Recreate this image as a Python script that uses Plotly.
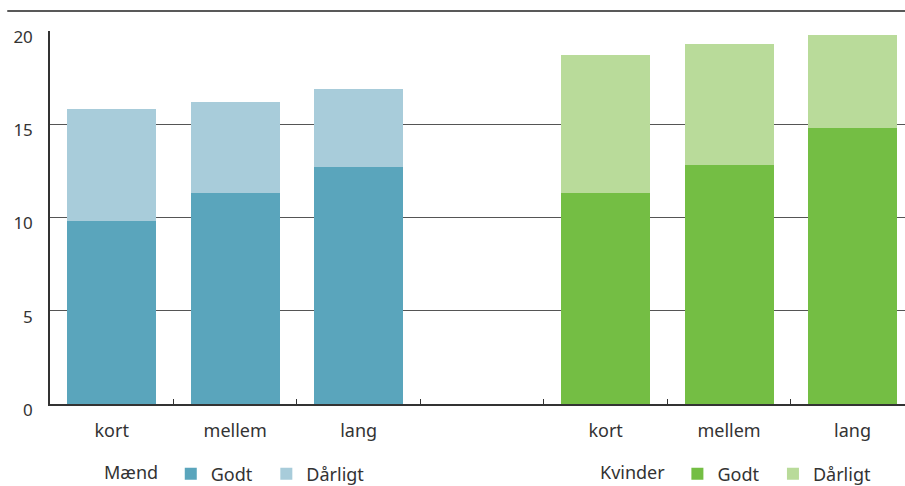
import plotly.graph_objects as go

categories = ["m_kort", "m_mellem", "m_lang", "gap", "k_kort", "k_mellem", "k_lang"]
tick_labels = ["kort", "mellem", "lang", "", "kort", "mellem", "lang"]

maend_x = ["m_kort", "m_mellem", "m_lang"]
maend_godt = [9.8, 11.3, 12.7]
maend_daarligt = [6.0, 4.9, 4.2]

kvinder_x = ["k_kort", "k_mellem", "k_lang"]
kvinder_godt = [11.3, 12.8, 14.8]
kvinder_daarligt = [7.4, 6.5, 5.0]

FONT = "Noto Sans"
TXT = "#333333"

data = [
    go.Bar(x=maend_x, y=maend_godt, name="Godt\u2002", marker=dict(color="#5AA5BC", line_width=0), legend="legend"),
    go.Bar(x=maend_x, y=maend_daarligt, name="Dårligt", marker=dict(color="#A8CCDA", line_width=0), legend="legend"),
    go.Bar(x=kvinder_x, y=kvinder_godt, name="Godt\u2002", marker=dict(color="#74BE44", line_width=0), legend="legend2"),
    go.Bar(x=kvinder_x, y=kvinder_daarligt, name="Dårligt", marker=dict(color="#B9DB9A", line_width=0), legend="legend2"),
]

legend_style = dict(
    orientation="h", xref="container", yref="container", yanchor="middle",
    font=dict(family=FONT, size=18, color=TXT), bgcolor="rgba(0,0,0,0)",
    traceorder="normal", itemclick=False,
)

layout = go.Layout(
    barmode="stack",
    bargap=0.28,
    width=905,
    height=486,
    margin=dict(l=50, r=0, t=31, b=82),
    plot_bgcolor="white",
    paper_bgcolor="white",
    font=dict(family=FONT, color=TXT),
    xaxis=dict(
        type="category", categoryorder="array", categoryarray=categories,
        tickvals=categories, ticktext=tick_labels, range=[-0.5, 6.425],
        tickson="boundaries", ticks="inside", ticklen=5, tickcolor="#333",
        showline=True, linecolor="#333", linewidth=1.5, showgrid=False,
        tickfont=dict(family=FONT, size=18, color=TXT), ticklabelstandoff=10,
        automargin=False,
    ),
    yaxis=dict(
        range=[0, 20], tickvals=[0, 5, 10, 15, 20],
        showline=True, linecolor="#333", linewidth=1.5,
        showgrid=True, gridcolor="#555", gridwidth=1, zeroline=False,
        tickfont=dict(family=FONT, size=17, color=TXT),
        ticklabelstandoff=12, ticklabelshift=6, automargin=False,
    ),
    legend=dict(legend_style, x=102 / 905, y=1 - 474 / 486,
                title=dict(text="Mænd ", side="left", font=dict(family=FONT, size=18, color=TXT))),
    legend2=dict(legend_style, x=598 / 905, y=1 - 474 / 486,
                 title=dict(text="Kvinder ", side="left", font=dict(family=FONT, size=18, color=TXT))),
    shapes=[dict(type="line", xref="paper", yref="paper", x0=-0.05, x1=1, y0=1 + 20 / 373, y1=1 + 20 / 373,
                 line=dict(color="#222", width=1.5))],
)

fig = go.Figure(data=data, layout=layout)
fig.write_html("out.html", config={"displayModeBar": False},
               post_script="document.body.style.margin='0';document.body.style.overflow='hidden';")
